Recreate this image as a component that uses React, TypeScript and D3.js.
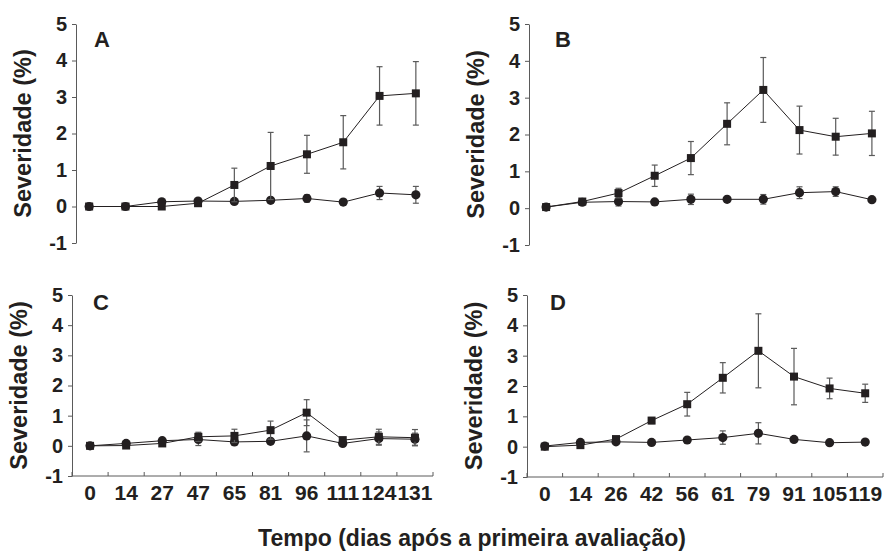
import React, { useEffect, useRef } from "react";
import * as d3 from "d3";

// evaluation days (x categories)
const daysAC = ["0", "14", "27", "47", "65", "81", "96", "111", "124", "131"];
const daysBD = ["0", "14", "26", "42", "56", "61", "79", "91", "105", "119"];
const yTicks = [-1, 0, 1, 2, 3, 4, 5];

// panel A
const aSquare = [0, 0, 0, 0.09, 0.59, 1.11, 1.43, 1.76, 3.03, 3.1];
const aSquareErr = [0, 0, 0, 0.05, 0.46, 0.92, 0.52, 0.73, 0.8, 0.87];
const aCircle = [0, 0, 0.13, 0.15, 0.14, 0.17, 0.22, 0.12, 0.37, 0.32];
const aCircleErr = [0, 0, 0, 0, 0, 0, 0.1, 0, 0.18, 0.23];

// panel B
const bSquare = [0.03, 0.18, 0.41, 0.88, 1.36, 2.29, 3.21, 2.12, 1.94, 2.03];
const bSquareErr = [0, 0, 0.13, 0.29, 0.45, 0.57, 0.88, 0.65, 0.5, 0.6];
const bCircle = [0.03, 0.16, 0.18, 0.17, 0.24, 0.24, 0.24, 0.42, 0.45, 0.23];
const bCircleErr = [0, 0.05, 0.12, 0, 0.14, 0, 0.13, 0.16, 0.13, 0];

// panel C
const cSquare = [0, 0.01, 0.08, 0.3, 0.33, 0.52, 1.1, 0.19, 0.3, 0.27];
const cSquareErr = [0, 0, 0.05, 0.15, 0.22, 0.3, 0.43, 0.05, 0.25, 0.27];
const cCircle = [0, 0.08, 0.17, 0.21, 0.13, 0.15, 0.33, 0.08, 0.24, 0.22];
const cCircleErr = [0, 0, 0, 0.2, 0, 0, 0.53, 0, 0.22, 0.2];

// panel D
const dSquare = [0, 0.05, 0.25, 0.86, 1.4, 2.27, 3.16, 2.31, 1.92, 1.76];
const dSquareErr = [0, 0, 0.05, 0.1, 0.39, 0.5, 1.22, 0.93, 0.34, 0.3];
const dCircle = [0.02, 0.14, 0.16, 0.14, 0.22, 0.3, 0.44, 0.24, 0.13, 0.15];
const dCircleErr = [0, 0, 0, 0, 0, 0.22, 0.35, 0, 0, 0];

const panels = [
  { label: "A", days: daysAC, sq: aSquare, sqE: aSquareErr, ci: aCircle, ciE: aCircleErr,
    axisX: 76, x0: 71, x1: 434, top: 24, bottom: 243, letterX: 94, letterY: 47, xAxis: false },
  { label: "B", days: daysBD, sq: bSquare, sqE: bSquareErr, ci: bCircle, ciE: bCircleErr,
    axisX: 529, x0: 528, x1: 890, top: 24, bottom: 245, letterX: 555, letterY: 47, xAxis: false },
  { label: "C", days: daysAC, sq: cSquare, sqE: cSquareErr, ci: cCircle, ciE: cCircleErr,
    axisX: 72, x0: 72, x1: 433, top: 295, bottom: 476, letterX: 93, letterY: 310, xAxis: true },
  { label: "D", days: daysBD, sq: dSquare, sqE: dSquareErr, ci: dCircle, ciE: dCircleErr,
    axisX: 527, x0: 527, x1: 883, top: 295, bottom: 477, letterX: 550, letterY: 310, xAxis: true },
];

const FONT = "'Liberation Sans', Arial, sans-serif";
const INK = "#231f20";
const GREY = "#5a5a5a";

const App = () => {
  const ref = useRef(null);

  useEffect(() => {
    const svg = d3.select(ref.current);
    svg.selectAll("*").remove();

    panels.forEach((p) => {
      const g = svg.append("g");
      const x = d3.scaleBand().domain(p.days).range([p.x0, p.x1]);
      const y = d3.scaleLinear().domain([-1, 5]).range([p.bottom, p.top]);
      const cx = (i) => x(p.days[i]) + x.bandwidth() / 2;

      // y axis
      const ya = g
        .append("g")
        .attr("transform", `translate(${p.axisX},0)`)
        .call(
          d3.axisLeft(y)
            .tickValues(yTicks)
            .tickFormat((d) => String(d))
            .tickSizeInner(4)
            .tickSizeOuter(0)
            .tickPadding(5)
        );
      ya.select(".domain").attr("stroke", GREY);
      ya.selectAll(".tick line").attr("stroke", GREY);
      ya.selectAll("text")
        .attr("font-family", FONT)
        .attr("font-weight", "bold")
        .attr("font-size", 20)
        .attr("fill", INK);

      // y label
      g.append("text")
        .attr("transform", `translate(${p.axisX - 45},${(p.top + p.bottom) / 2}) rotate(-90)`)
        .attr("text-anchor", "middle")
        .attr("font-family", FONT)
        .attr("font-weight", "bold")
        .attr("font-size", 23.5)
        .attr("fill", INK)
        .text("Severidade (%)");

      // x axis (bottom row only)
      if (p.xAxis) {
        const xa = g
          .append("g")
          .attr("transform", `translate(0,${p.bottom})`)
          .call(d3.axisBottom(x).tickSize(0).tickPadding(9));
        xa.select(".domain").remove();
        xa.selectAll("text")
          .attr("font-family", FONT)
          .attr("font-weight", "bold")
          .attr("font-size", 21)
          .attr("fill", INK);
        g.append("line")
          .attr("x1", p.x0).attr("x2", p.x1)
          .attr("y1", p.bottom).attr("y2", p.bottom)
          .attr("stroke", GREY);
        const bounds = p.days.map((d) => x(d)).concat([x(p.days[p.days.length - 1]) + x.step()]);
        g.selectAll(".xt")
          .data(bounds)
          .enter()
          .append("line")
          .attr("x1", (d) => d).attr("x2", (d) => d)
          .attr("y1", p.bottom).attr("y2", p.bottom - 4)
          .attr("stroke", GREY);
      }

      // panel letter
      g.append("text")
        .attr("x", p.letterX)
        .attr("y", p.letterY)
        .attr("font-family", FONT)
        .attr("font-weight", "bold")
        .attr("font-size", 22)
        .attr("fill", INK)
        .text(p.label);

      const series = [
        { v: p.ci, e: p.ciE, shape: "circle" },
        { v: p.sq, e: p.sqE, shape: "square" },
      ];

      series.forEach((s) => {
        // error bars
        const eb = g.append("g").attr("stroke", GREY).attr("stroke-width", 1.2);
        s.v.forEach((v, i) => {
          if (!s.e[i]) return;
          const yt = y(v + s.e[i]);
          const yb = y(v - s.e[i]);
          eb.append("line").attr("x1", cx(i)).attr("x2", cx(i)).attr("y1", yt).attr("y2", yb);
          eb.append("line").attr("x1", cx(i) - 3).attr("x2", cx(i) + 3).attr("y1", yt).attr("y2", yt);
          eb.append("line").attr("x1", cx(i) - 3).attr("x2", cx(i) + 3).attr("y1", yb).attr("y2", yb);
        });

        const line = d3
          .line()
          .x((d, i) => cx(i))
          .y((d) => y(d));
        g.append("path")
          .attr("d", line(s.v))
          .attr("fill", "none")
          .attr("stroke", INK)
          .attr("stroke-width", 1);

        if (s.shape === "circle") {
          g.selectAll(null)
            .data(s.v)
            .enter()
            .append("circle")
            .attr("cx", (d, i) => cx(i))
            .attr("cy", (d) => y(d))
            .attr("r", 4.6)
            .attr("fill", INK);
        } else {
          g.selectAll(null)
            .data(s.v)
            .enter()
            .append("rect")
            .attr("x", (d, i) => cx(i) - 4)
            .attr("y", (d) => y(d) - 4)
            .attr("width", 8)
            .attr("height", 8)
            .attr("fill", INK);
        }
      });
    });

    svg.append("text")
      .attr("x", 472)
      .attr("y", 546)
      .attr("text-anchor", "middle")
      .attr("font-family", FONT)
      .attr("font-weight", "bold")
      .attr("font-size", 23)
      .attr("fill", INK)
      .text("Tempo (dias após a primeira avaliação)");
  });

  return (
    <svg
      ref={ref}
      width={896}
      height={551}
      style={{ position: "absolute", left: 0, top: 0, background: "#fff" }}
    ></svg>
  );
};

export default App;
